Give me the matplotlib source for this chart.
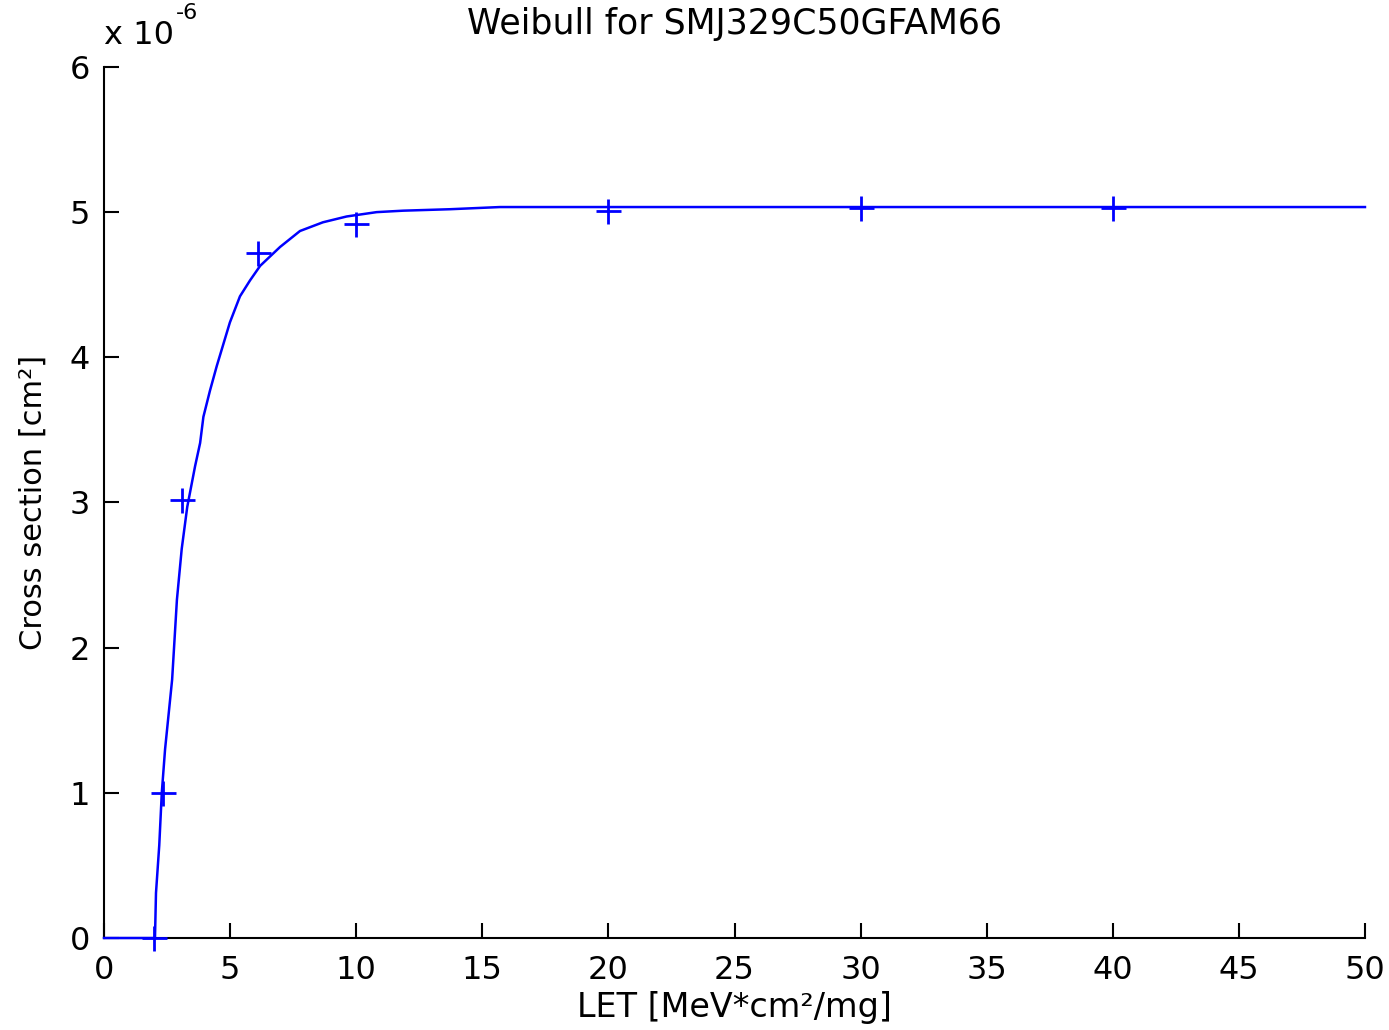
import matplotlib.pyplot as plt

# measured points (LET, cross section)
let_meas = [2.0, 2.35, 3.1, 6.1, 10.0, 20.0, 30.0, 40.0]
xs_meas = [0.0, 1.0e-6, 3.02e-6, 4.72e-6, 4.92e-6, 5.01e-6, 5.03e-6, 5.03e-6]

# Weibull fit curve
let_fit = [0.0, 2.02, 2.06, 2.19, 2.29, 2.42, 2.70, 2.89, 3.08, 3.30, 3.61, 3.81,
           3.94, 4.20, 4.47, 4.73, 4.99, 5.39, 5.79, 6.19, 6.98, 7.77, 8.68,
           9.62, 10.81, 11.86, 13.72, 15.7, 50.0]
xs_fit = [0.0, 0.0, 0.31, 0.64, 1.0, 1.30, 1.78, 2.33, 2.68, 2.97, 3.25, 3.41,
          3.59, 3.77, 3.94, 4.09, 4.24, 4.42, 4.53, 4.63, 4.76, 4.87, 4.93,
          4.97, 5.00, 5.01, 5.02, 5.035, 5.035]
xs_fit = [v * 1e-6 for v in xs_fit]

plt.rcParams['font.family'] = ['DejaVu Sans']
FS = 23

fig = plt.figure(figsize=(13.89, 10.30), dpi=100)
ax = fig.add_axes([0.0749, 0.0893, 0.9078, 0.8457])

ax.plot(let_fit, xs_fit, color='blue', lw=1.8, clip_on=False, zorder=3)
ax.plot(let_meas, xs_meas, '+', color='blue', ms=18, mew=2, clip_on=False, zorder=4)

ax.set_xlim(0, 50)
ax.set_ylim(0, 6e-6)
ax.set_xticks(range(0, 51, 5))
ax.set_yticks([i * 1e-6 for i in range(7)])
ax.set_yticklabels([str(i) for i in range(7)])

for s in ['top', 'right']:
    ax.spines[s].set_visible(False)
for s in ['left', 'bottom']:
    ax.spines[s].set_linewidth(1.5)
ax.tick_params(direction='in', length=11, width=1.5, labelsize=FS)
ax.tick_params(axis='x', pad=12)
ax.tick_params(axis='y', pad=10)

ax.text(0.0, 1.018, 'x 10', transform=ax.transAxes, fontsize=FS, ha='left', va='bottom')
ax.text(0.057, 1.05, '-6', transform=ax.transAxes, fontsize=16, ha='left', va='bottom')

ax.set_title('Weibull for SMJ329C50GFAM66', fontsize=25, pad=24)
ax.set_xlabel('LET [MeV*cm²/mg]', fontsize=24, labelpad=4)
ax.set_ylabel('Cross section [cm²]', fontsize=22, labelpad=16)

fig.savefig('out.png', dpi=100)
